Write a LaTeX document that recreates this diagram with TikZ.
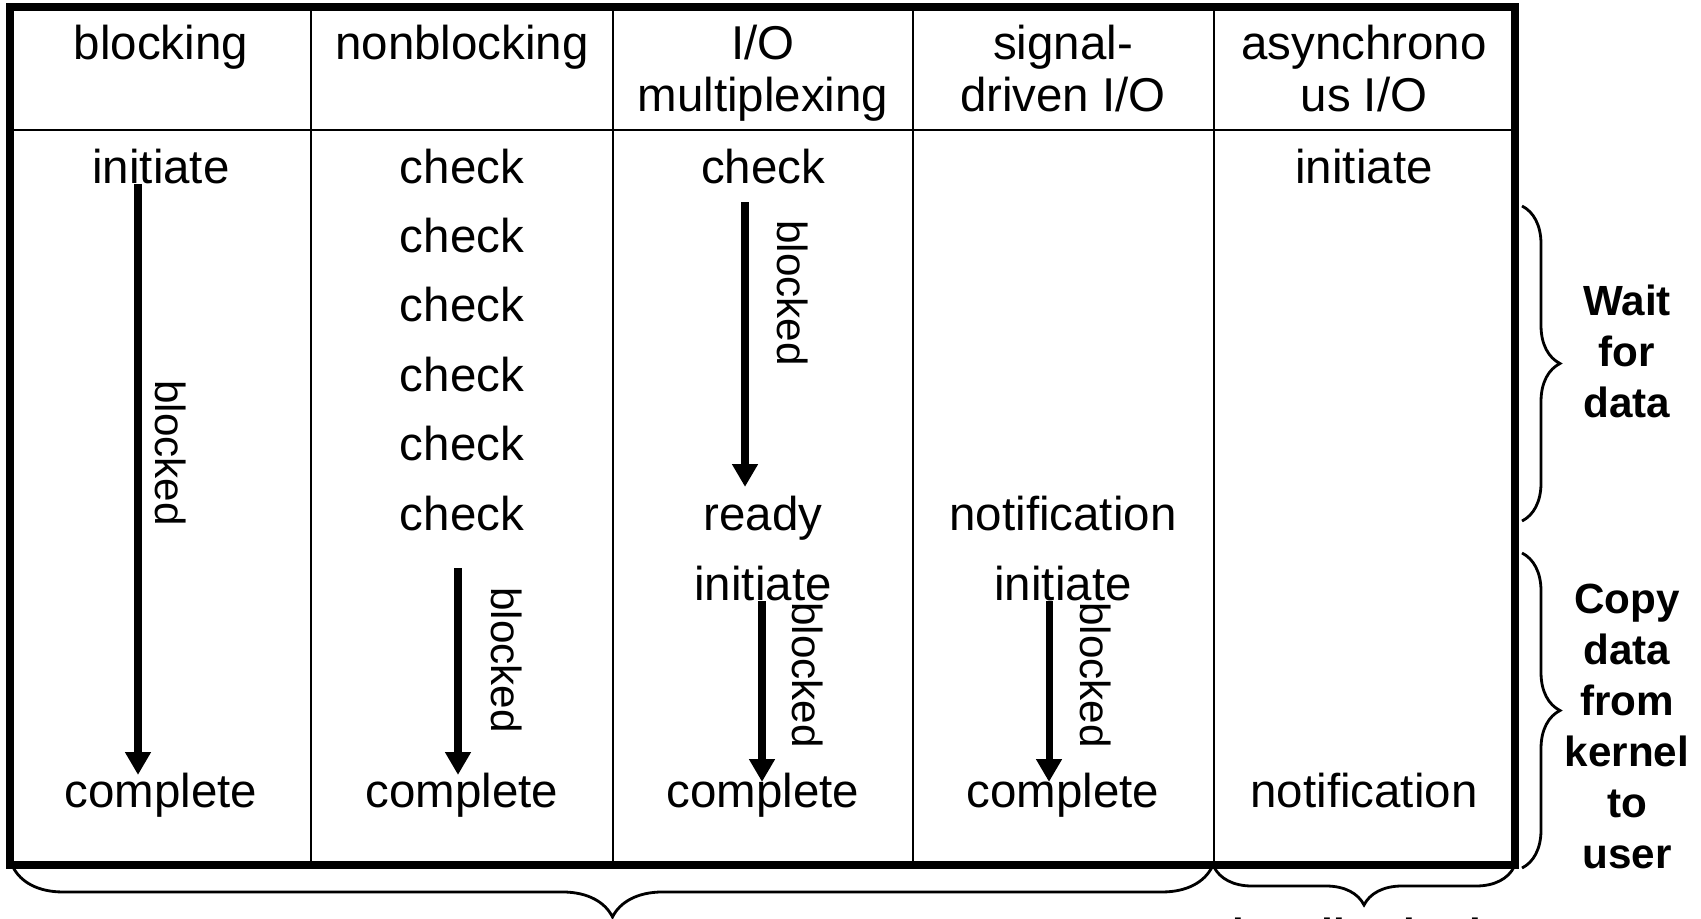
\documentclass[tikz,border=0pt]{standalone}
\usepackage{fontspec}
\setmainfont{Liberation Sans}
\usetikzlibrary{arrows.meta,positioning,calc,decorations.pathreplacing}

\tikzset{
  lbl/.style={anchor=base,inner sep=0pt,font=\fontsize{13.5}{14.8}\selectfont},
  hdr/.style={anchor=north,inner sep=0pt,align=center,font=\fontsize{13.5}{14.8}\selectfont},
  blk/.style={-{Triangle[length=6.5pt,width=7pt]},line width=2pt},
  blklbl/.style={rotate=-90,inner sep=0pt,font=\fontsize{12}{14}\selectfont},
  phase/.style={inner sep=0pt,align=center,font=\fontsize{12}{14.5}\selectfont\bfseries},
  brc/.style={decorate,decoration={brace,amplitude=#1},line width=0.8pt},
}

\begin{document}
\begin{tikzpicture}[x=0.01cm,y=-0.01cm]
\useasboundingbox (0,0) rectangle (1701,918);
% table frame
\draw[line width=0.6pt] (10,130) -- (1515,130);
\foreach \x in {311,613,913,1214}
  \draw[line width=0.6pt] (\x,7) -- (\x,865);
\draw[line width=2.2pt] (10,7) rectangle (1515,865);
% headers
\node[hdr] (hBlk) at (161,24) {blocking};
\node[hdr] (hNon) at (462,24) {nonblocking};
\node[hdr] (hMux) at (763,24) {I/O\\multiplexing};
\node[hdr] (hSig) at (1063,24) {signal-\\driven I/O};
\node[hdr] (hAio) at (1364,24) {asynchrono\\us I/O};
% blocking
\node[lbl] (blkInit) at (161,183) {initiate};
\node[lbl] (blkDone) at (161,807) {complete};
% nonblocking
\foreach \i in {1,...,6}
  \node[lbl] (nbChk\i) at (462,{183+69.4*(\i-1)}) {check};
\node[lbl] (nbDone) at (462,807) {complete};
% multiplexing
\node[lbl] (muxChk) at (763,183) {check};
\node[lbl] (muxReady) at (763,530) {ready};
\node[lbl] (muxInit) at (763,600) {initiate};
\node[lbl] (muxDone) at (763,807) {complete};
% signal driven
\node[lbl] (sigNote) at (1063,530) {notification};
\node[lbl] (sigInit) at (1063,600) {initiate};
\node[lbl] (sigDone) at (1063,807) {complete};
% asynchronous
\node[lbl] (aioInit) at (1364,183) {initiate};
\node[lbl] (aioNote) at (1364,807) {notification};
% blocked arrows
\draw[blk] ($(blkInit.south)+(-23,0)$) -- ($(blkDone.north)+(-23,3)$);
\draw[blk] ($(nbChk6.south)+(-4,37)$) -- ($(nbDone.north)+(-4,3)$);
\draw[blk] ($(muxChk.south)+(-18,18)$) -- ($(muxReady.north)+(-18,-8)$);
\draw[blk] ($(muxInit.south)+(-1,0)$) -- ($(muxDone.north)+(-1,10)$);
\draw[blk] ($(sigInit.south)+(-14,0)$) -- ($(sigDone.north)+(-14,10)$);
\node[blklbl] (blkWait) at (171,453) {blocked};
\node[blklbl] (nbWait) at (507,660) {blocked};
\node[blklbl] (muxWait) at (793,293) {blocked};
\node[blklbl] (muxCopy) at (808,675) {blocked};
\node[blklbl] (sigCopy) at (1096,675) {blocked};
% phases
\draw[brc=10.8pt] (1522,206) -- (1522,521);
\draw[brc=10.8pt] (1522,553) -- (1522,868);
\node[phase] (waitPh) at (1627,351) {Wait\\for\\data};
\node[phase] (copyPh) at (1627,726) {Copy\\data\\from\\kernel\\to\\user};
\draw[brc=14.2pt] (1212,867) -- (13,867);
\draw[brc=10.8pt] (1514,867) -- (1214,867);
\begin{scope}
  \clip (0,0) rectangle (1701,918);
  \node[phase,anchor=base] (bothPh) at (1364,948) {handles both};
\end{scope}
\end{tikzpicture}
\end{document}
